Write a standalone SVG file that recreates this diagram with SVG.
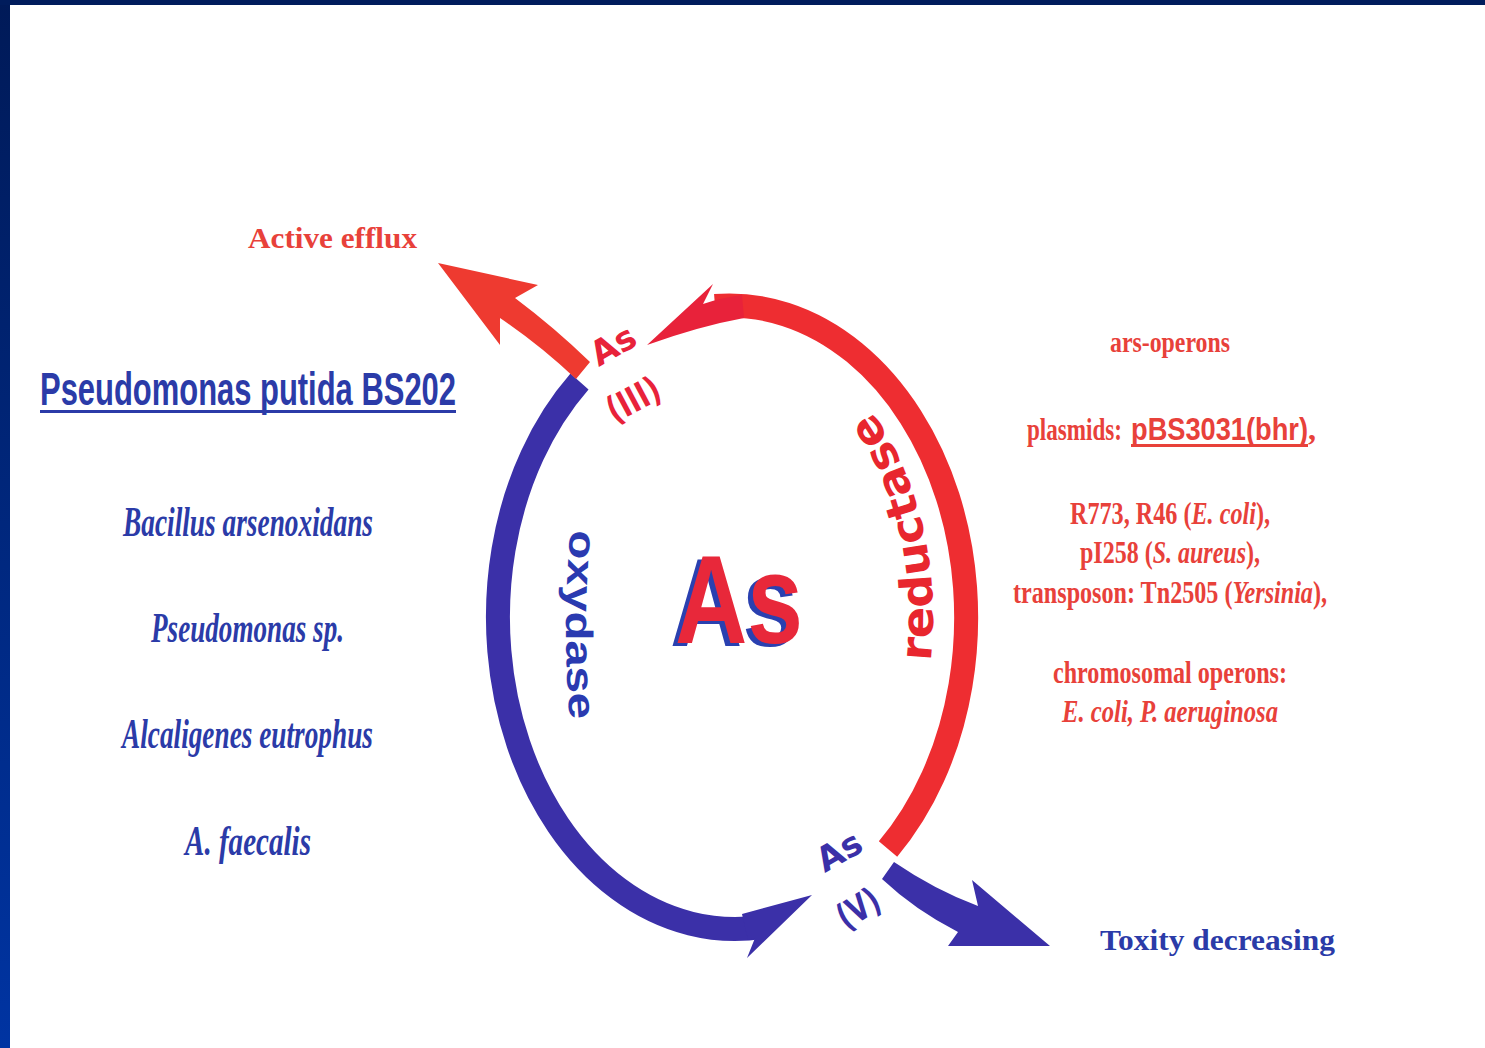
<svg xmlns="http://www.w3.org/2000/svg" width="1485" height="1048" viewBox="0 0 1485 1048">
  <defs>
    <linearGradient id="frameGrad" x1="0" y1="0" x2="0" y2="1">
      <stop offset="0" stop-color="#001a58"/>
      <stop offset="1" stop-color="#0034a2"/>
    </linearGradient>
    <!-- baseline curves for the enzyme labels -->
    <path id="redLabelPath" d="M 930.6,661.4 A 198 284 0 0 0 769.4,337.3"/>
    <path id="blueLabelPath" d="M 574,500 A 165 420 0 0 0 574,760"/>
  </defs>
  <style>
    .serifBold { font-family: "Liberation Serif", "Times New Roman", serif; font-weight: bold; }
    .serifItal { font-family: "Liberation Serif", "Times New Roman", serif; font-style: italic; font-weight: bold; }
    .sansBold { font-family: "Liberation Sans", Arial, sans-serif; font-weight: bold; }
    .wideBold { font-family: "DejaVu Sans", Verdana, sans-serif; font-weight: bold; }
    .red { fill: #e8413a; }
    .blue { fill: #2b3ba8; }
    .arcRed { fill: none; stroke: #ee2d31; stroke-width: 24; }
    .arcBlue { fill: none; stroke: #3b30a8; stroke-width: 24; }
  </style>

  <!-- page background and frame -->
  <rect x="0" y="0" width="1485" height="1048" fill="#ffffff"/>
  <rect x="0" y="0" width="10" height="1048" fill="url(#frameGrad)"/>
  <rect x="0" y="0" width="1485" height="5" fill="#001c5c"/>

  <!-- connectors: the redox cycle and the two outgoing arrows -->
  <g id="connectors">
    <!-- reductase arc, As(V) to As(III) -->
    <path class="arcRed" d="M 715,306 A 237 312 0 0 1 888,849"/>
    <path d="M 647,345 L 713,284 L 703,304 Q 720,298 742,295 L 744,318 Q 700,326 647,345 Z" fill="#e8223a"/>
    <!-- oxydase arc, As(III) to As(V) -->
    <path class="arcBlue" d="M 579.5,381.5 A 237 312 0 0 0 763.9,926.7"/>
    <path d="M 812,895 L 747,958 L 755,938 L 748,940 L 742,914 Z" fill="#3b30a8"/>
    <!-- active efflux -->
    <path d="M 576,379 Q 540,345 500,318 L 500,345 L 438,263 L 538,285 L 515,298 Q 555,328 590,362 Z" fill="#ee3a30"/>
    <!-- toxicity decreasing -->
    <path d="M 894,862 Q 935,890 978,906 L 972,880 L 1050,946 L 948,946 L 958,932 Q 915,910 882,879 Z" fill="#3b30a8"/>
  </g>

  <g id="node-active-efflux">
    <text class="serifBold red" x="248" y="248" font-size="30" textLength="169" lengthAdjust="spacingAndGlyphs">Active efflux</text>
  </g>

  <g id="node-as3">
    <text class="wideBold" fill="#e8223a" font-size="34" text-anchor="middle" transform="translate(613,345) rotate(-30)" y="12">As</text>
    <text class="wideBold" fill="#e8223a" font-size="36" text-anchor="middle" transform="translate(633,399) rotate(-28)" y="13" textLength="56" lengthAdjust="spacingAndGlyphs">(III)</text>
  </g>

  <g id="node-as5">
    <text class="wideBold" fill="#3b30a8" font-size="34" text-anchor="middle" transform="translate(839,851) rotate(-30)" y="12">As</text>
    <text class="wideBold" fill="#3b30a8" font-size="36" text-anchor="middle" transform="translate(858,908) rotate(-32)" y="13" textLength="44" lengthAdjust="spacingAndGlyphs">(V)</text>
  </g>

  <g id="node-as-center">
    <text class="sansBold" fill="#2a40b0" x="670" y="646" font-size="126" textLength="128" lengthAdjust="spacingAndGlyphs">As</text>
    <text class="sansBold" fill="#e8283a" x="675" y="643" font-size="126" textLength="128" lengthAdjust="spacingAndGlyphs">As</text>
  </g>

  <g id="node-reductase">
    <text class="wideBold" fill="#e8262e" font-size="44"><textPath href="#redLabelPath" textLength="262" lengthAdjust="spacingAndGlyphs">reductase</textPath></text>
  </g>

  <g id="node-oxydase">
    <text class="sansBold" fill="#2a3ab0" font-size="38"><textPath href="#blueLabelPath" startOffset="30" textLength="190" lengthAdjust="spacingAndGlyphs">oxydase</textPath></text>
  </g>

  <g id="node-oxidizers">
    <text class="sansBold blue" x="40" y="405" font-size="46" textLength="416" lengthAdjust="spacingAndGlyphs">Pseudomonas putida BS202</text>
    <rect x="40" y="410" width="416" height="3" fill="#2b3ba8"/>
    <text class="serifItal blue" x="123" y="536" font-size="42" textLength="250" lengthAdjust="spacingAndGlyphs">Bacillus arsenoxidans</text>
    <text class="serifItal blue" x="151" y="642" font-size="42" textLength="193" lengthAdjust="spacingAndGlyphs">Pseudomonas sp.</text>
    <text class="serifItal blue" x="122" y="748" font-size="42" textLength="251" lengthAdjust="spacingAndGlyphs">Alcaligenes eutrophus</text>
    <text class="serifItal blue" x="185" y="855" font-size="42" textLength="126" lengthAdjust="spacingAndGlyphs">A.  faecalis</text>
  </g>

  <g id="node-reducers">
    <text class="serifBold red" x="1110" y="352" font-size="30" textLength="120" lengthAdjust="spacingAndGlyphs">ars-operons</text>
    <text class="serifBold red" x="1027" y="440" font-size="32" textLength="95" lengthAdjust="spacingAndGlyphs">plasmids:</text>
    <text class="sansBold red" x="1131" y="440" font-size="32" textLength="177" lengthAdjust="spacingAndGlyphs">pBS3031(bhr)</text>
    <rect x="1131" y="444" width="177" height="3" fill="#e8413a"/>
    <text class="serifBold red" x="1308" y="440" font-size="32">,</text>
    <text class="serifBold red" x="1070" y="524" font-size="32" textLength="200" lengthAdjust="spacingAndGlyphs">R773, R46 (<tspan font-style="italic">E. coli</tspan>),</text>
    <text class="serifBold red" x="1080" y="563" font-size="32" textLength="180" lengthAdjust="spacingAndGlyphs">pI258 (<tspan font-style="italic">S. aureus</tspan>),</text>
    <text class="serifBold red" x="1013" y="603" font-size="32" textLength="314" lengthAdjust="spacingAndGlyphs">transposon: Tn2505 (<tspan font-style="italic">Yersinia</tspan>),</text>
    <text class="serifBold red" x="1053" y="683" font-size="32" textLength="234" lengthAdjust="spacingAndGlyphs">chromosomal operons:</text>
    <text class="serifBold red" x="1062" y="722" font-size="32" font-style="italic" textLength="216" lengthAdjust="spacingAndGlyphs">E. coli, P.  aeruginosa</text>
  </g>

  <g id="node-toxicity">
    <text class="serifBold blue" x="1100" y="950" font-size="30" textLength="235" lengthAdjust="spacingAndGlyphs">Toxity decreasing</text>
  </g>
</svg>
